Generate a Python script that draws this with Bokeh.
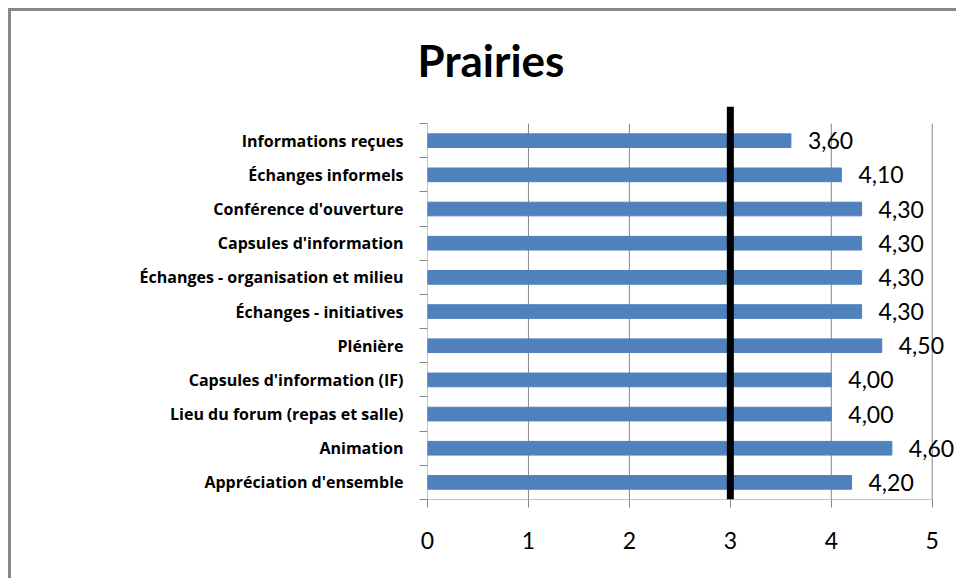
from bokeh.plotting import figure
from bokeh.models import ColumnDataSource, FixedTicker, Range1d
from bokeh.core.properties import value
from bokeh.embed import file_html
from bokeh.resources import INLINE

# Data (top to bottom as shown)
categories = [
    "Informations reçues",
    "Échanges informels",
    "Conférence d'ouverture",
    "Capsules d'information",
    "Échanges - organisation et milieu",
    "Échanges - initiatives",
    "Plénière",
    "Capsules d'information (IF)",
    "Lieu du forum (repas et salle)",
    "Animation",
    "Appréciation d'ensemble",
]
scores = [3.60, 4.10, 4.30, 4.30, 4.30, 4.30, 4.50, 4.00, 4.00, 4.60, 4.20]
x_ticks = [0, 1, 2, 3, 4, 5]
threshold = 3
title_text = "Prairies"

n = len(categories)
ys = [n - 0.5 - k for k in range(n)]
labels = [f"{v:.2f}".replace(".", ",") for v in scores]

FONT = "Lato"
CAT_FONT = "Open Sans"
GRAY = "#878787"

src = ColumnDataSource(dict(y=ys, v=scores, lab=labels, cat=categories))

p = figure(
    width=948, height=570,
    x_range=Range1d(x_ticks[0], 5.27),
    y_range=Range1d(0, n + 0.5),
    output_backend="svg", toolbar_location=None,
    min_border_left=416, min_border_right=0,
    min_border_top=94, min_border_bottom=82,
)
p.styles = {
    "margin-left": "8px", "margin-top": "8px",
    "border-left": f"3px solid {GRAY}", "border-top": f"3px solid {GRAY}",
}
p.outline_line_color = None
p.xgrid.visible = False
p.ygrid.visible = False

# grid lines (including the left axis line)
p.segment(x0=x_ticks, y0=[0] * len(x_ticks), x1=x_ticks, y1=[n] * len(x_ticks),
          line_color=GRAY, line_width=1)
# x axis baseline
p.segment(x0=[x_ticks[0]], y0=[0], x1=[x_ticks[-1]], y1=[0],
          line_color=GRAY, line_width=1)

p.hbar(y="y", left=0, right="v", height=0.4, color="#4F81BD", source=src)

p.segment(x0=[threshold], y0=[0], x1=[threshold], y1=[n + 0.5],
          line_color="black", line_width=7)

p.text(x="v", y="y", text="lab", source=src, x_offset=17,
       text_align="left", text_baseline="middle",
       text_font=value(FONT), text_font_size="23px", text_color="black")

# y axis
ya = p.yaxis[0]
ya.ticker = FixedTicker(ticks=ys, minor_ticks=list(range(n + 1)))
ya.major_label_overrides = {y: c for y, c in zip(ys, categories)}
ya.axis_line_color = None
ya.major_tick_line_color = None
ya.major_tick_out = 0
ya.major_tick_in = 0
ya.minor_tick_line_color = GRAY
ya.minor_tick_out = 8
ya.minor_tick_in = 0
ya.major_label_standoff = 16
ya.major_label_text_font = CAT_FONT
ya.major_label_text_font_style = "bold"
ya.major_label_text_font_size = "16px"
ya.major_label_text_color = "black"

# x axis
xa = p.xaxis[0]
xa.ticker = FixedTicker(ticks=x_ticks, minor_ticks=[])
xa.axis_line_color = None
xa.major_tick_line_color = GRAY
xa.major_tick_out = 8
xa.major_tick_in = 0
xa.major_label_standoff = 24
xa.major_label_text_font = FONT
xa.major_label_text_font_size = "23px"
xa.major_label_text_color = "black"

p.title.text = title_text
p.title.text_font = FONT
p.title.text_font_style = "bold"
p.title.text_font_size = "44px"
p.title.text_color = "black"
p.title.align = "left"
p.title.offset = -10
p.title.standoff = 41

open("out.html", "w").write(file_html(p, INLINE))
